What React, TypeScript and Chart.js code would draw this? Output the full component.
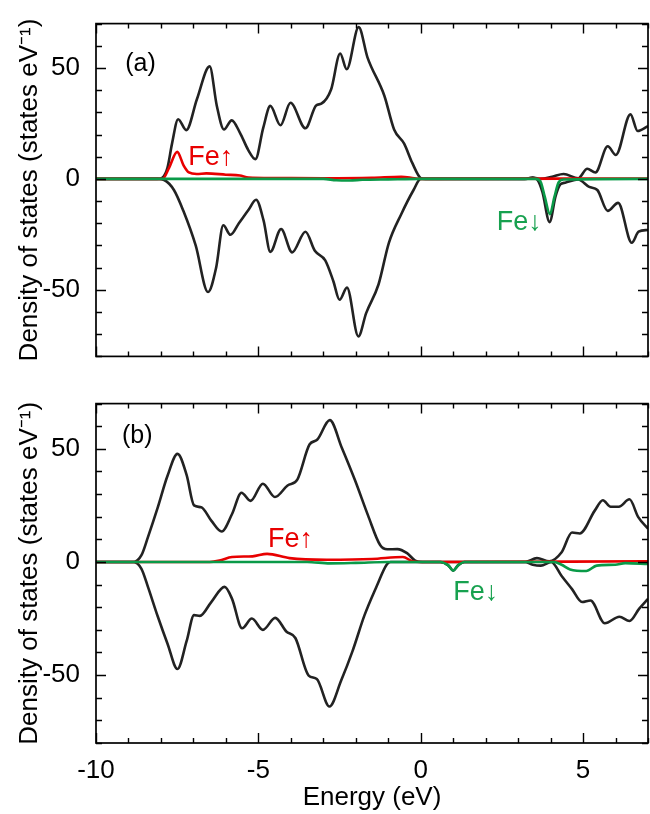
import React, { useEffect, useRef } from 'react';
import { Chart, registerables } from 'chart.js';

Chart.register(...registerables);

const FONT = "'Liberation Sans', Arial, Helvetica, sans-serif";
const BLACK = '#222222';
const RED = '#e80000';
const GREEN = '#0a9a48';
const GREEN_TEXT = '#17a14f';

// axis ticks
const xTickValues = [-10, -5, 0, 5];
const yTickValues = [-50, 0, 50];

// ---------- Panel (a) ----------
const aUpE = [-10, -8.1, -7.96, -7.8, -7.66, -7.47, -7.22, -6.89, -6.5, -6.28, -6.06, -5.82, -5.57, -5.31, -5.09, -4.85, -4.63, -4.32, -4.01, -3.55, -3.22, -3.06, -2.76, -2.48, -2.28, -1.91, -1.64, -1.12, -0.82, -0.51, -0.26, 0, 0.15, 3.2, 3.45, 3.7, 4.05, 4.4, 4.85, 5.13, 5.38, 5.76, 6.01, 6.46, 6.68, 7];
const aUpDos = [0, 0, 0.5, 5, 15.8, 26.9, 22, 36, 50.7, 33, 22.3, 26.4, 20.9, 13, 8.9, 23, 32.9, 24.2, 34.3, 22.8, 33.1, 33.9, 40.3, 56.5, 49.4, 68.4, 54.8, 37.5, 22.3, 15.9, 7.2, 0.4, 0, 0, 0.6, 0, 1.0, 2.2, 0.3, 4.6, 2.9, 14.7, 10.8, 29.1, 21.6, 23.8];

const aDnE = [-10, -8.1, -7.9, -7.6, -7.31, -6.93, -6.55, -6.3, -6.08, -5.86, -5.6, -5.29, -5.07, -4.84, -4.63, -4.3, -3.96, -3.55, -3.26, -2.94, -2.69, -2.5, -2.27, -1.92, -1.68, -1.3, -0.98, -0.6, -0.22, 0, 0.15, 3.2, 3.45, 3.6, 3.75, 3.97, 4.15, 4.3, 4.45, 4.85, 5.19, 5.44, 5.76, 6.08, 6.5, 6.71, 7];
const aDnDos = [0, 0, -0.5, -5, -14.4, -30, -51, -40, -20.9, -25.2, -20, -13.7, -9.4, -18.7, -32.9, -22.6, -33.1, -23.8, -32.4, -36.7, -46.1, -54.5, -49, -71, -60.5, -47.6, -28.8, -15.9, -5, 0, 0, 0, 0.5, -0.5, -6, -19.5, -8, -2.5, -1.7, -0.3, -3.6, -5, -14.4, -10.8, -28.8, -23.8, -23];

const aFeUpE = [-10, -7.95, -7.75, -7.5, -7.3, -7.14, -6.9, -6.6, -6.0, -5.57, -5.3, -4.5, -3.0, -1.5, -0.6, -0.2, 0, 7];
const aFeUpDos = [0, 0, 5, 12.2, 6, 2.9, 2.2, 2.5, 1.9, 1.5, 0.6, 0.4, 0.3, 0.5, 1.0, 0.3, 0, 0.2];

const aFeDnE = [-10, -3.0, -2.6, -2.2, -1.8, -1.0, 0, 3.55, 3.7, 3.82, 3.98, 4.12, 4.25, 4.4, 7];
const aFeDnDos = [0, 0, -0.6, -0.7, -0.4, -0.2, 0, 0, -1.5, -8, -15.9, -8, -1.5, -0.3, 0];

// ---------- Panel (b) ----------
const bUpE = [-10, -8.85, -8.6, -8.4, -8.1, -7.8, -7.49, -7.21, -6.98, -6.76, -6.45, -6.13, -5.81, -5.52, -5.24, -4.86, -4.49, -4.1, -3.8, -3.42, -3.19, -2.8, -2.43, -2.02, -1.62, -1.25, -1.03, -0.72, -0.42, -0.17, 0.05, 3.2, 3.58, 3.96, 4.34, 4.66, 4.9, 5.36, 5.61, 5.85, 6.1, 6.43, 6.7, 7];
const bUpDos = [0, 0, 3, 11, 24, 38, 47.8, 38.5, 25, 24.2, 18.3, 13.5, 21.2, 30.6, 27, 34.6, 28.7, 33.8, 36.4, 52, 54, 62.7, 50.5, 36, 20.5, 7.5, 5.6, 5.7, 3.9, 0.6, 0, 0, 1.7, 0.3, 4.3, 13, 12.6, 22.7, 27.3, 24.4, 24.4, 27.7, 19.8, 14.7];

const bDnE = [-10, -8.85, -8.6, -8.4, -8.1, -7.8, -7.49, -7.21, -6.98, -6.8, -6.45, -6.04, -5.81, -5.5, -5.2, -4.86, -4.48, -4.14, -3.86, -3.45, -3.2, -2.81, -2.45, -2.1, -1.73, -1.35, -1.05, -0.93, 0.6, 0.85, 1.0, 1.15, 1.35, 3.2, 3.45, 3.7, 4.02, 4.34, 4.66, 4.97, 5.23, 5.67, 6.12, 6.43, 6.73, 7];
const bDnDos = [0, 0, -3, -11, -24, -36, -47.3, -35, -23.5, -23.8, -17.7, -11, -16.3, -29.3, -25, -30, -24.7, -30.7, -33.6, -50.2, -51.7, -63.9, -52.4, -39.4, -23.5, -10.5, -1.2, 0, 0, -1.5, -3.8, -1.5, 0, 0, -1.2, -1.6, 0, -6.2, -12, -17.7, -17, -27.1, -24.2, -26.1, -20.6, -16.3];

const bFeUpE = [-10, -6.5, -6.2, -5.81, -5.18, -4.73, -4.04, -2.9, -1.5, -0.55, -0.25, 0, 7];
const bFeUpDos = [0, 0, 0.6, 2.2, 2.5, 3.6, 1.7, 1.0, 1.3, 2.2, 0.3, 0, 0.3];

const bFeDnE = [-10, -3.5, -2.8, -2.0, -1.0, 0.6, 0.85, 1.0, 1.15, 1.35, 4.1, 4.34, 4.6, 5.1, 5.42, 5.99, 6.3, 7];
const bFeDnDos = [0, 0, -0.6, -0.4, 0, 0, -1.5, -3.8, -1.5, 0, 0, -1.2, -3.3, -4, -1.6, -1.2, -0.5, -0.9];

// ---------- annotations ----------
const aLabelText = ['(a)', 'Fe\u2191', 'Fe\u2193'];
const aLabelE = [-9.1, -7.16, 2.34];
const aLabelDos = [48.5, 6.4, -23.1];
const aLabelColor = ['#000', RED, GREEN_TEXT];
const aLabelSize = [25, 27, 27];

const bLabelText = ['(b)', 'Fe\u2191', 'Fe\u2193'];
const bLabelE = [-9.2, -4.7, 1.0];
const bLabelDos = [52.4, 6.8, -17];
const bLabelColor = ['#000', RED, GREEN_TEXT];
const bLabelSize = [25, 27, 27];

function pts(xs: number[], ys: number[]) {
  return xs.map((x, i) => ({ x, y: ys[i] }));
}

function makePlugin(texts: string[], es: number[], ds: number[], colors: string[], sizes: number[]) {
  return {
    id: 'frameTicks',
    afterDatasetsDraw(chart: any) {
      const { ctx, chartArea } = chart;
      const { left, right, top, bottom } = chartArea;
      const xs = chart.scales.x;
      const ys = chart.scales.y;
      ctx.save();
      ctx.strokeStyle = '#000';
      ctx.lineWidth = 1.7;
      ctx.strokeRect(left, top, right - left, bottom - top);
      ctx.lineWidth = 1.4;
      ctx.beginPath();
      for (let v = Math.ceil(xs.min); v <= xs.max; v += 1) {
        const px = Math.round(xs.getPixelForValue(v)) + 0.5;
        const len = v % 5 === 0 ? 10 : 5;
        ctx.moveTo(px, bottom);
        ctx.lineTo(px, bottom - len);
        ctx.moveTo(px, top);
        ctx.lineTo(px, top + len);
      }
      for (let v = Math.ceil(ys.min / 10) * 10; v <= ys.max; v += 10) {
        const py = Math.round(ys.getPixelForValue(v)) + 0.5;
        const len = v % 50 === 0 ? 10 : 6;
        ctx.moveTo(left, py);
        ctx.lineTo(left + len, py);
        ctx.moveTo(right, py);
        ctx.lineTo(right - len, py);
      }
      ctx.stroke();
      ctx.textAlign = 'left';
      ctx.textBaseline = 'alphabetic';
      texts.forEach((t, i) => {
        ctx.font = `${sizes[i]}px ${FONT}`;
        ctx.fillStyle = colors[i];
        ctx.fillText(t, xs.getPixelForValue(es[i]), ys.getPixelForValue(ds[i]));
      });
      ctx.restore();
    },
  };
}

function makeConfig(datasets: any[], showX: boolean, topPad: number, xHeight: number, plugin: any) {
  return {
    type: 'line',
    data: { datasets },
    options: {
      animation: false,
      responsive: false,
      devicePixelRatio: 1,
      layout: { padding: { top: topPad, right: 2, left: 0, bottom: 0 } },
      plugins: { legend: { display: false }, tooltip: { enabled: false } },
      elements: { point: { radius: 0 }, line: { borderWidth: 2.6, cubicInterpolationMode: 'monotone' } },
      scales: {
        x: {
          type: 'linear',
          min: -10,
          max: 7,
          afterBuildTicks: (s: any) => {
            s.ticks = xTickValues.map((v) => ({ value: v }));
          },
          afterFit: (s: any) => {
            s.height = xHeight;
          },
          grid: { display: false },
          border: { display: false },
          ticks: {
            display: showX,
            autoSkip: false,
            maxRotation: 0,
            padding: 4,
            color: '#000',
            font: { family: FONT, size: 26 },
          },
          title: {
            display: showX,
            text: 'Energy (eV)',
            color: '#000',
            font: { family: FONT, size: 26 },
            padding: { top: 0, bottom: 1 },
          },
        },
        y: {
          type: 'linear',
          min: -80,
          max: 70,
          afterBuildTicks: (s: any) => {
            s.ticks = yTickValues.map((v) => ({ value: v }));
          },
          afterFit: (s: any) => {
            s.width = 96;
          },
          grid: { display: false },
          border: { display: false },
          ticks: {
            padding: 8,
            color: '#000',
            font: { family: FONT, size: 26 },
          },
          title: {
            display: true,
            text: 'Density of states (states eV\u207B\u00B9)',
            color: '#000',
            font: { family: FONT, size: 26 },
            padding: { top: 14, bottom: 0 },
          },
        },
      },
    },
    plugins: [plugin],
  };
}

function lineDs(xs: number[], ys: number[], color: string) {
  return { data: pts(xs, ys), borderColor: color, backgroundColor: color, fill: false };
}

export default function App() {
  const refA = useRef<HTMLCanvasElement>(null);
  const refB = useRef<HTMLCanvasElement>(null);

  useEffect(() => {
    const chartA = new Chart(
      refA.current as HTMLCanvasElement,
      makeConfig(
        [
          lineDs(aFeDnE, aFeDnDos, GREEN),
          lineDs(aFeUpE, aFeUpDos, RED),
          lineDs(aUpE, aUpDos, BLACK),
          lineDs(aDnE, aDnDos, BLACK),
        ],
        false,
        11,
        22,
        makePlugin(aLabelText, aLabelE, aLabelDos, aLabelColor, aLabelSize)
      ) as any
    );
    const chartB = new Chart(
      refB.current as HTMLCanvasElement,
      makeConfig(
        [
          lineDs(bFeDnE, bFeDnDos, GREEN),
          lineDs(bFeUpE, bFeUpDos, RED),
          lineDs(bUpE, bUpDos, BLACK),
          lineDs(bDnE, bDnDos, BLACK),
        ],
        true,
        17,
        71,
        makePlugin(bLabelText, bLabelE, bLabelDos, bLabelColor, bLabelSize)
      ) as any
    );
    return () => {
      chartA.destroy();
      chartB.destroy();
    };
  }, []);

  return (
    <div style={{ position: 'fixed', left: 0, top: 0, width: 650, height: 814, background: '#fff' }}>
      <canvas ref={refA} width={650} height={380} style={{ position: 'absolute', left: 0, top: 0 }} />
      <canvas ref={refB} width={650} height={434} style={{ position: 'absolute', left: 0, top: 380 }} />
    </div>
  );
}
